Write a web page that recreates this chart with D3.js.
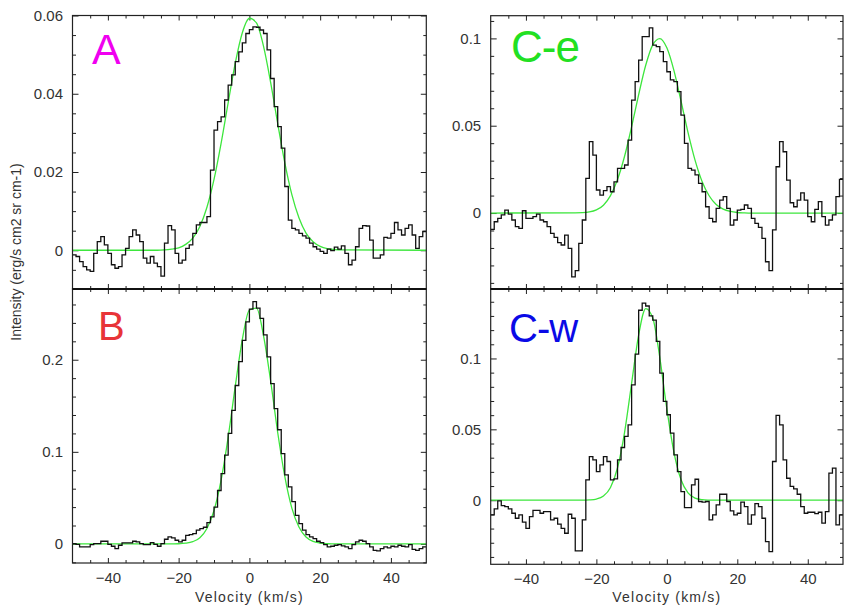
<!DOCTYPE html>
<html>
<head>
<meta charset="utf-8">
<script src="https://cdnjs.cloudflare.com/ajax/libs/d3/7.8.5/d3.min.js"></script>
<style>
  html, body { margin: 0; padding: 0; background: #fff; }
  svg { display: block; font-family: "Liberation Sans", Arial, Helvetica, sans-serif; }
</style>
</head>
<body>
<div id="chart"></div>
<script>
// spectra: one value per channel, channels start at velStart (km/s)
let velStart = -50
let chanWidth = 1

let intensityA = [
  -0.0012,-0.0016,-0.0029,-0.0042,-0.0050,-0.0054,-0.0008,0.0022,0.0035,0.0014,
  -0.0008,-0.0037,-0.0046,-0.0042,-0.0012,0.0005,0.0035,0.0052,0.0039,0.0022,
  -0.0020,-0.0033,-0.0016,-0.0033,-0.0042,-0.0066,0.0018,0.0063,0.0052,-0.0008,
  -0.0033,-0.0025,0.0005,0.0014,0.0043,0.0065,0.0071,0.0071,0.0086,0.0205,
  0.0307,0.0329,0.0341,0.0384,0.0422,0.0448,0.0482,0.0507,0.0530,0.0554,
  0.0564,0.0571,0.0570,0.0563,0.0554,0.0512,0.0439,0.0367,0.0316,0.0261,
  0.0163,0.0077,0.0056,0.0052,0.0043,0.0037,0.0031,0.0018,0.0009,0.0003,
  -0.0003,-0.0008,0.0003,-0.0001,0.0008,0.0003,0.0011,-0.0008,-0.0037,-0.0025,
  0.0009,0.0056,0.0063,0.0062,0.0026,-0.0020,-0.0020,-0.0012,0.0033,0.0031,
  0.0043,0.0071,0.0052,0.0039,0.0056,0.0065,0.0039,0.0005,0.0035,0.0048
]
let intensityB = [
  0.0004,-0.0004,-0.0033,-0.0033,-0.0033,-0.0007,0.0004,0.0004,0.0029,0.0029,
  -0.0004,-0.0025,-0.0051,-0.0014,0.0011,0.0011,0.0011,0.0029,0.0022,0.0004,
  -0.0007,-0.0007,0.0014,-0.0004,-0.0025,0.0004,0.0051,0.0076,0.0065,0.0040,
  0.0022,0.0040,0.0094,0.0101,0.0112,0.0149,0.0167,0.0181,0.0232,0.0293,
  0.0400,0.0580,0.0764,0.0964,0.1200,0.1450,0.1720,0.1980,0.2210,0.2410,
  0.2550,0.2630,0.2560,0.2450,0.2270,0.2030,0.1740,0.1470,0.1240,0.0980,
  0.0750,0.0620,0.0460,0.0310,0.0220,0.0149,0.0101,0.0076,0.0058,0.0029,
  0.0014,-0.0007,-0.0033,-0.0025,-0.0014,-0.0007,-0.0022,-0.0033,-0.0051,-0.0007,
  0.0022,0.0040,0.0029,0.0004,-0.0033,-0.0069,-0.0076,-0.0051,-0.0033,-0.0043,
  -0.0025,-0.0033,-0.0014,-0.0025,-0.0033,-0.0007,-0.0058,-0.0069,-0.0051,-0.0033
]
let intensityCe = [
  -0.0094,-0.0050,-0.0031,-0.0011,0.0017,-0.0006,-0.0040,-0.0078,-0.0088,0.0013,
  -0.0031,-0.0031,-0.0021,-0.0006,-0.0040,-0.0050,-0.0078,-0.0116,-0.0139,-0.0170,
  -0.0183,-0.0126,-0.0202,-0.0365,-0.0330,-0.0174,-0.0040,0.0199,0.0409,0.0332,
  0.0132,0.0103,0.0128,0.0151,0.0122,0.0179,0.0256,0.0256,0.0275,0.0418,
  0.0647,0.0752,0.0876,0.1010,0.1010,0.1060,0.0962,0.0953,0.0924,0.0867,
  0.0809,0.0762,0.0752,0.0695,0.0561,0.0399,0.0256,0.0246,0.0218,0.0170,
  0.0122,0.0036,-0.0031,-0.0050,0.0027,0.0074,0.0094,0.0027,-0.0069,-0.0040,
  0.0017,0.0021,0.0046,0.0027,-0.0031,-0.0059,-0.0082,-0.0145,-0.0279,-0.0330,
  -0.0097,0.0265,0.0409,0.0351,0.0189,0.0059,0.0036,0.0074,0.0116,0.0074,
  -0.0021,-0.0050,0.0021,0.0065,-0.0021,-0.0069,-0.0040,-0.0011,0.0094,0.0193
]
let intensityCw = [
  -0.0104,-0.0061,-0.0005,-0.0038,-0.0045,-0.0061,-0.0092,-0.0127,-0.0104,-0.0155,
  -0.0198,-0.0115,-0.0071,-0.0071,-0.0092,-0.0080,-0.0080,-0.0139,-0.0127,-0.0169,
  -0.0198,-0.0233,-0.0099,-0.0127,-0.0358,-0.0358,-0.0139,0.0144,0.0308,0.0285,
  0.0202,0.0250,0.0308,0.0273,0.0144,0.0151,0.0285,0.0372,0.0450,0.0532,
  0.0814,0.1030,0.1340,0.1390,0.1370,0.1300,0.1270,0.1120,0.0897,0.0697,
  0.0603,0.0473,0.0320,0.0202,0.0061,-0.0052,-0.0052,0.0108,0.0148,-0.0009,
  -0.0014,-0.0009,-0.0139,-0.0104,-0.0033,0.0042,0.0042,-0.0009,-0.0075,-0.0104,
  -0.0092,-0.0014,-0.0045,-0.0169,-0.0104,-0.0024,-0.0045,-0.0127,-0.0292,-0.0363,
  0.0273,0.0598,0.0532,0.0285,0.0155,0.0097,0.0080,0.0042,-0.0045,-0.0092,
  -0.0085,-0.0085,-0.0094,-0.0085,-0.0162,-0.0080,0.0191,0.0226,-0.0174,-0.0104
]

// gaussian fits (green), read at these velocities
let fitVel = [-50,-26,-24,-22,-20,-18,-16,-14,-12,-10,-8,-6,-4,-2,0,2,4,6,8,10,12,14,16,18,20,22,24,26,50]
let fitA  = [0,0,0.0001,0.0003,0.0006,0.0015,0.0031,0.0061,0.0110,0.0181,0.0273,0.0377,0.0478,0.0556,0.0593,0.0581,0.0521,0.0429,0.0324,0.0224,0.0142,0.0083,0.0044,0.0022,0.0010,0.0004,0.0002,0.0001,0]
let fitB  = [0,0,0,0.0001,0.0002,0.0008,0.0025,0.0068,0.0168,0.0363,0.0692,0.116,0.171,0.222,0.254,0.256,0.226,0.177,0.121,0.0733,0.0389,0.0183,0.0075,0.0027,0.0009,0.0002,0.0001,0,0]
let fitCe = [0,0.0001,0.0002,0.0006,0.0018,0.0045,0.0100,0.0192,0.0325,0.0494,0.0678,0.0846,0.0963,0.0999,0.0946,0.0817,0.0643,0.0462,0.0303,0.0181,0.0099,0.0049,0.0022,0.0009,0.0003,0.0001,0,0,0]
let fitCw = [0,0,0,0.0002,0.0008,0.0029,0.0090,0.0229,0.0479,0.0825,0.1166,0.1352,0.1286,0.1006,0.0644,0.0339,0.0146,0.0052,0.0015,0.0004,0.0001,0,0,0,0,0,0,0,0]

// axes
let xDomain = [-50, 50]
let xTicks = [-40, -20, 0, 20, 40]
let yDomainA = [-0.0099, 0.06]
let yDomainB = [-0.0207, 0.2768]
let yDomainCe = [-0.0435, 0.113]
let yDomainCw = [-0.0452, 0.149]
let yTicksA = [0, 0.02, 0.04, 0.06]
let yTicksB = [0, 0.1, 0.2]
let yTicksC = [0, 0.05, 0.1]
let panelNames = ['A', 'B', 'C-e', 'C-w']

let W = 847, H = 613
let svg = d3.select('#chart').append('svg').attr('width', W).attr('height', H)

let panels = [
  {name: panelNames[0], data: intensityA, fit: fitA, yd: yDomainA, yTicks: yTicksA, minor: 0.005,
   xr: [72.5, 426.3], yr: [289, 15.5], bottom: false, color: '#f000f0', lx: 92, ly: 64, fs: 43},
  {name: panelNames[1], data: intensityB, fit: fitB, yd: yDomainB, yTicks: yTicksB, minor: 0.02,
   xr: [72.5, 426.3], yr: [563, 289], bottom: true, color: '#e83438', lx: 98, ly: 340, fs: 40},
  {name: panelNames[2], data: intensityCe, fit: fitCe, yd: yDomainCe, yTicks: yTicksC, minor: 0.01,
   xr: [490.7, 843], yr: [289, 15.7], bottom: false, color: '#22e022', lx: 511, ly: 62, fs: 44},
  {name: panelNames[3], data: intensityCw, fit: fitCw, yd: yDomainCw, yTicks: yTicksC, minor: 0.01,
   xr: [490.7, 843], yr: [564.3, 289], bottom: true, color: '#0a0ae6', lx: 509, ly: 342, fs: 40}
]

let fmtY = d3.format('~g')
let fmtX = d3.format('d')

function near(list, v) {
  return list.some(m => Math.abs(m - v) < 1e-9)
}

function styleAxis(g) {
  g.attr('font-size', null).attr('font-family', null)
  g.select('.domain').remove()
  g.selectAll('line').attr('stroke', '#222').attr('stroke-width', 1)
  g.selectAll('text').attr('fill', '#333').attr('font-size', '15px')
}

panels.forEach((p, k) => {
  let x = d3.scaleLinear().domain(xDomain).range(p.xr)
  let y = d3.scaleLinear().domain(p.yd).range(p.yr)
  let g = svg.append('g')

  let clipId = 'clip' + k
  svg.append('clipPath').attr('id', clipId)
    .append('rect')
    .attr('x', p.xr[0]).attr('y', p.yr[1])
    .attr('width', p.xr[1] - p.xr[0]).attr('height', p.yr[0] - p.yr[1])

  // minor tick positions
  let yMinor = d3.range(Math.ceil(p.yd[0] / p.minor), Math.floor(p.yd[1] / p.minor) + 1)
    .map(n => +(n * p.minor).toFixed(6))
    .filter(v => !near(p.yTicks, v))
  let xMinor = d3.range(-45, 50, 5).filter(v => !near(xTicks, v))

  // y ticks, left side with labels
  g.append('g').attr('transform', `translate(${p.xr[0]},0)`)
    .call(d3.axisLeft(y).tickValues(p.yTicks).tickSize(-6).tickPadding(9.5).tickFormat(fmtY))
    .call(styleAxis)
  g.append('g').attr('transform', `translate(${p.xr[0]},0)`)
    .call(d3.axisLeft(y).tickValues(yMinor).tickSize(-3.5).tickFormat(''))
    .call(styleAxis)
  // right side
  g.append('g').attr('transform', `translate(${p.xr[1]},0)`)
    .call(d3.axisRight(y).tickValues(p.yTicks).tickSize(-5.5).tickFormat(''))
    .call(styleAxis)
  g.append('g').attr('transform', `translate(${p.xr[1]},0)`)
    .call(d3.axisRight(y).tickValues(yMinor).tickSize(-3).tickFormat(''))
    .call(styleAxis)

  // x ticks, top and bottom
  g.append('g').attr('transform', `translate(0,${p.yr[1]})`)
    .call(d3.axisTop(x).tickValues(xTicks).tickSize(-5).tickFormat(''))
    .call(styleAxis)
  g.append('g').attr('transform', `translate(0,${p.yr[1]})`)
    .call(d3.axisTop(x).tickValues(xMinor).tickSize(-3).tickFormat(''))
    .call(styleAxis)
  g.append('g').attr('transform', `translate(0,${p.yr[0]})`)
    .call(d3.axisBottom(x).tickValues(xTicks).tickSize(-5).tickPadding(9.5)
      .tickFormat(p.bottom ? fmtX : ''))
    .call(styleAxis)
  g.append('g').attr('transform', `translate(0,${p.yr[0]})`)
    .call(d3.axisBottom(x).tickValues(xMinor).tickSize(-3).tickFormat(''))
    .call(styleAxis)

  // fit curve
  let fitLine = d3.line()
    .x((d, i) => x(fitVel[i]))
    .y(d => y(d))
    .curve(d3.curveMonotoneX)
  g.append('path')
    .attr('clip-path', `url(#${clipId})`)
    .attr('d', fitLine(p.fit))
    .attr('fill', 'none')
    .attr('stroke', '#3de63d')
    .attr('stroke-width', 1.3)

  // histogram of channels
  let pts = p.data.map((d, i) => [velStart + i * chanWidth, d])
  pts.push([velStart + p.data.length * chanWidth, p.data[p.data.length - 1]])
  let step = d3.line()
    .x(d => x(d[0]))
    .y(d => y(d[1]))
    .curve(d3.curveStepAfter)
  g.append('path')
    .attr('clip-path', `url(#${clipId})`)
    .attr('d', step(pts))
    .attr('fill', 'none')
    .attr('stroke', '#111')
    .attr('stroke-width', 1.3)

  // frame
  g.append('rect')
    .attr('x', p.xr[0]).attr('y', p.yr[1])
    .attr('width', p.xr[1] - p.xr[0]).attr('height', p.yr[0] - p.yr[1])
    .attr('fill', 'none')
    .attr('stroke', '#222')
    .attr('stroke-width', 1.2)

  // panel name
  g.append('text')
    .attr('x', p.lx).attr('y', p.ly)
    .attr('fill', p.color)
    .attr('font-size', p.fs + 'px')
    .attr('letter-spacing', p.name.length > 1 ? '-1px' : null)
    .text(p.name)

  if (p.bottom) {
    g.append('text')
      .attr('x', (p.xr[0] + p.xr[1]) / 2).attr('y', 602)
      .attr('text-anchor', 'middle')
      .attr('fill', '#333')
      .attr('font-size', '14px')
      .attr('letter-spacing', '1.2px')
      .text('Velocity (km/s)')
  }
})

// shared boundary between stacked panels
svg.append('line').attr('x1', 72.5).attr('x2', 426.3).attr('y1', 289).attr('y2', 289)
  .attr('stroke', '#111').attr('stroke-width', 2)
svg.append('line').attr('x1', 490.7).attr('x2', 843).attr('y1', 289).attr('y2', 289)
  .attr('stroke', '#111').attr('stroke-width', 2)

svg.append('text')
  .attr('transform', 'translate(21,252) rotate(-90)')
  .attr('text-anchor', 'middle')
  .attr('fill', '#333')
  .attr('font-size', '14px')
  .text('Intensity (erg/s cm2 sr cm-1)')
</script>
</body>
</html>
